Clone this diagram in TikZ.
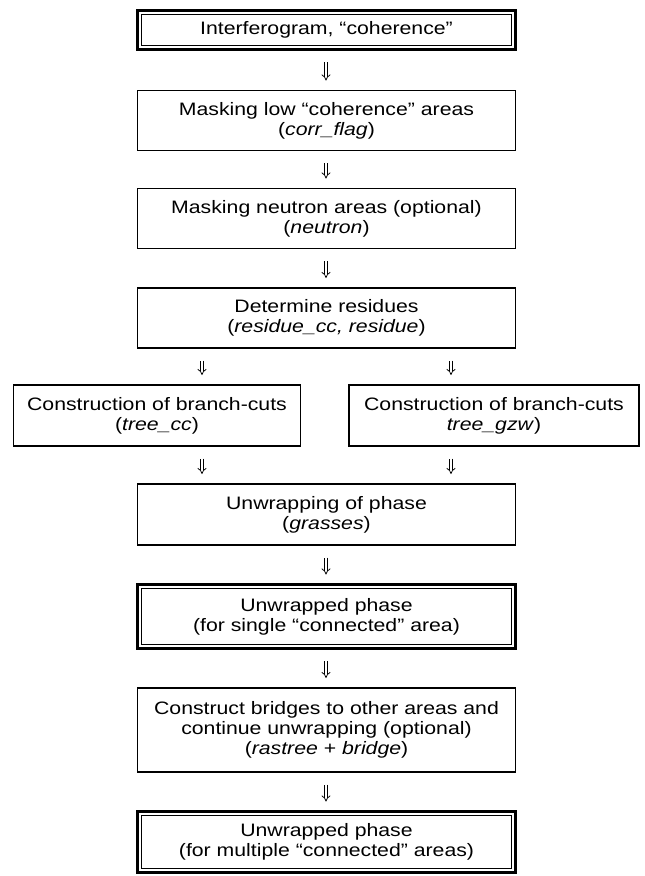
\documentclass[tikz,border=0pt]{standalone}
\usepackage{fontspec}
\setmainfont{Liberation Sans}[FakeStretch=1.18]
\usetikzlibrary{arrows.meta}
\begin{document}
\begin{tikzpicture}[x=1pt,y=-1pt,
  box/.style={draw=black, outer sep=0pt, inner sep=0pt, align=center,
    font=\fontsize{18}{20}\selectfont, text=black},
  sbox/.style={box, line width=1.6pt},
  dbox/.style={box, line width=3pt},
  inner/.style={line width=0.9pt},
  arr/.style={double, double distance=2.4pt, line width=0.75pt, -{Implies},
    shorten <=12.5pt, shorten >=10pt}]
\useasboundingbox (0,0) rectangle (645,876);

\node[dbox, minimum width=378pt, minimum height=39pt] (b1) at (326.5,30)
  {Interferogram, “coherence”};
\node[sbox, minimum width=378pt, minimum height=60pt] (b2) at (326.5,120.5)
  {Masking low “coherence” areas\\(\textit{corr\_flag})};
\node[sbox, minimum width=378pt, minimum height=60pt] (b3) at (326.5,218.5)
  {Masking neutron areas (optional)\\(\textit{neutron})};
\node[sbox, minimum width=378pt, minimum height=60pt] (b4) at (326.5,318)
  {Determine residues\\(\textit{residue\_cc, residue})};
\node[sbox, minimum width=287pt, minimum height=61pt] (b5l) at (157,415.5)
  {Construction of branch-cuts\\(\textit{tree\_cc})};
\node[sbox, minimum width=290pt, minimum height=61pt] (b5r) at (494,415.5)
  {Construction of branch-cuts\\\textit{tree\_gzw})};
\node[sbox, minimum width=378pt, minimum height=61pt] (b6) at (326.5,514.5)
  {Unwrapping of phase\\(\textit{grasses})};
\node[dbox, minimum width=378pt, minimum height=64pt] (b7) at (326.5,616.5)
  {Unwrapped phase\\(for single “connected” area)};
\node[sbox, minimum width=378pt, minimum height=84pt] (b8) at (326.5,730)
  {Construct bridges to other areas and\\continue unwrapping (optional)\\(\textit{rastree} + \textit{bridge})};
\node[dbox, minimum width=378pt, minimum height=61pt] (b9) at (326.5,842)
  {Unwrapped phase\\(for multiple “connected” areas)};

\foreach \n in {b1,b7,b9}
  \draw[inner] ([shift={(3.7pt,-3.7pt)}]\n.north west) rectangle ([shift={(-3.7pt,3.7pt)}]\n.south east);

\coordinate (la) at (202,0);
\coordinate (ra) at (451,0);
\coordinate (ca) at (326,0);

\draw[arr] (b1.south -| ca) -- (b2.north -| ca);
\draw[arr] (b2.south -| ca) -- (b3.north -| ca);
\draw[arr] (b3.south -| ca) -- (b4.north -| ca);
\draw[arr] (b4.south -| la) -- (b5l.north -| la);
\draw[arr] (b4.south -| ra) -- (b5r.north -| ra);
\draw[arr] (b5l.south -| la) -- (b6.north -| la);
\draw[arr] (b5r.south -| ra) -- (b6.north -| ra);
\draw[arr] (b6.south -| ca) -- (b7.north -| ca);
\draw[arr] (b7.south -| ca) -- (b8.north -| ca);
\draw[arr] (b8.south -| ca) -- (b9.north -| ca);
\end{tikzpicture}
\end{document}
